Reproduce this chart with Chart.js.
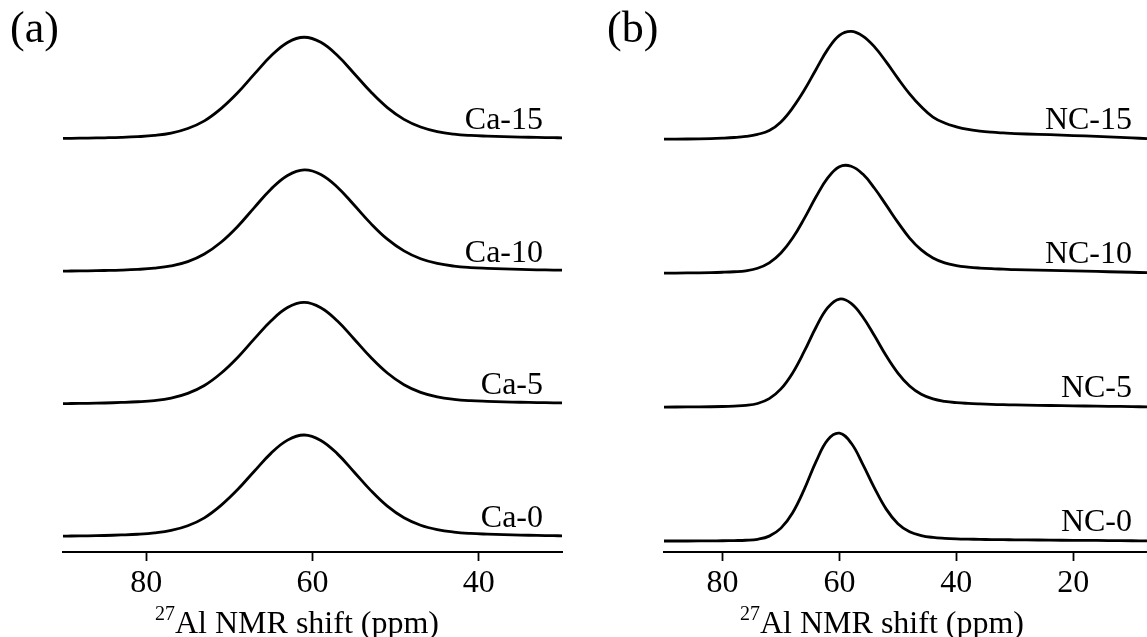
<!DOCTYPE html>
<html>
<head>
<meta charset="utf-8">
<script src="https://cdn.jsdelivr.net/npm/chart.js@4.4.1/dist/chart.umd.min.js"></script>
<style>
  body { margin: 0; background: #fff; }
  canvas { position: absolute; top: 0; }
  #chartA { left: 0; }
  #chartB { left: 575px; }
</style>
</head>
<body>
<canvas id="chartA" width="575" height="637"></canvas>
<canvas id="chartB" width="572" height="637"></canvas>
<script>
// panel (a): chemical shift grid (ppm) and normalised intensities
const ppmA = [90, 89, 87, 85, 83, 81, 79, 77, 75, 73, 71, 69, 67, 65, 63, 61, 59, 57, 55, 53, 51, 49, 47, 45, 43, 41, 39, 37, 35, 33, 31, 30];
const ca0  = [0.009, 0.01, 0.012, 0.015, 0.02, 0.027, 0.04, 0.064, 0.11, 0.188, 0.31, 0.465, 0.645, 0.82, 0.95, 1.0, 0.947, 0.815, 0.638, 0.457, 0.302, 0.188, 0.115, 0.072, 0.048, 0.035, 0.028, 0.023, 0.019, 0.016, 0.013, 0.012];
const ca5  = [0.008, 0.009, 0.011, 0.014, 0.019, 0.026, 0.038, 0.062, 0.108, 0.185, 0.305, 0.46, 0.642, 0.818, 0.95, 1.0, 0.948, 0.818, 0.642, 0.462, 0.308, 0.193, 0.118, 0.074, 0.05, 0.037, 0.03, 0.025, 0.021, 0.018, 0.016, 0.015];
const ca10 = [0.007, 0.008, 0.01, 0.013, 0.017, 0.024, 0.036, 0.058, 0.1, 0.175, 0.29, 0.445, 0.63, 0.81, 0.945, 1.0, 0.955, 0.83, 0.655, 0.475, 0.32, 0.205, 0.128, 0.082, 0.056, 0.042, 0.034, 0.028, 0.024, 0.02, 0.017, 0.016];
const ca15 = [0.008, 0.009, 0.011, 0.014, 0.018, 0.025, 0.037, 0.06, 0.105, 0.18, 0.3, 0.455, 0.638, 0.815, 0.949, 1.0, 0.95, 0.82, 0.645, 0.465, 0.31, 0.195, 0.12, 0.075, 0.05, 0.037, 0.03, 0.025, 0.021, 0.018, 0.015, 0.014];
const namesA = ['Ca-0', 'Ca-5', 'Ca-10', 'Ca-15'];
const ticksA = [80, 60, 40];

// panel (b)
const ppmB = [90, 86, 82, 80, 78, 76, 74, 72, 70, 68, 66, 64, 62, 60, 58, 56, 54, 52, 50, 48, 46, 44, 42, 40, 38, 36, 34, 32, 30, 26, 22, 18, 14, 10, 7.4];
const nc0  = [0, 0, 0.001, 0.002, 0.004, 0.007, 0.016, 0.045, 0.119, 0.262, 0.48, 0.734, 0.937, 0.998, 0.907, 0.71, 0.49, 0.295, 0.16, 0.085, 0.05, 0.033, 0.025, 0.02, 0.017, 0.015, 0.013, 0.012, 0.011, 0.009, 0.007, 0.006, 0.004, 0.002, 0.001];
const nc5  = [0, 0.001, 0.003, 0.005, 0.009, 0.015, 0.033, 0.078, 0.168, 0.316, 0.517, 0.739, 0.92, 1.0, 0.96, 0.834, 0.66, 0.475, 0.315, 0.195, 0.118, 0.075, 0.053, 0.041, 0.034, 0.029, 0.025, 0.022, 0.02, 0.016, 0.013, 0.01, 0.007, 0.004, 0.002];
const nc10 = [0, 0.002, 0.005, 0.008, 0.013, 0.022, 0.045, 0.095, 0.186, 0.325, 0.507, 0.707, 0.882, 0.986, 0.99, 0.917, 0.786, 0.63, 0.47, 0.325, 0.215, 0.14, 0.095, 0.07, 0.056, 0.047, 0.041, 0.037, 0.033, 0.028, 0.023, 0.018, 0.013, 0.008, 0.004];
const nc15 = [0, 0.002, 0.006, 0.01, 0.016, 0.026, 0.045, 0.08, 0.16, 0.29, 0.455, 0.646, 0.832, 0.962, 0.999, 0.955, 0.855, 0.716, 0.563, 0.42, 0.3, 0.205, 0.15, 0.115, 0.09, 0.075, 0.065, 0.058, 0.052, 0.045, 0.038, 0.03, 0.021, 0.012, 0.006];
const namesB = ['NC-0', 'NC-5', 'NC-10', 'NC-15'];
const ticksB = [80, 60, 40, 20];

const FONT = '"Liberation Serif", "Times New Roman", serif';

// labels next to each trace, panel letter, axis title with superscript
const panelText = {
  id: 'panelText',
  afterDraw(chart, args, o) {
    const ctx = chart.ctx, area = chart.chartArea, y = chart.scales.y;
    ctx.save();
    ctx.fillStyle = '#000';
    ctx.textBaseline = 'alphabetic';

    ctx.font = '32px ' + FONT;
    ctx.textAlign = 'right';
    o.names.forEach((name, i) => {
      ctx.fillText(name, area.right - o.labelInset, y.getPixelForValue(o.offsets[i]) - 10);
    });

    ctx.textAlign = 'left';
    ctx.font = '44px ' + FONT;
    ctx.fillText(o.letter, o.letterX, 42);

    // x title
    const sup = '27', main = 'Al NMR shift (ppm)';
    ctx.font = '20px ' + FONT;
    const wSup = ctx.measureText(sup).width;
    ctx.font = '32px ' + FONT;
    const wMain = ctx.measureText(main).width;
    const x0 = o.titleX - (wSup + wMain) / 2;
    ctx.fillText(main, x0 + wSup, 633);
    ctx.font = '20px ' + FONT;
    ctx.fillText(sup, x0, 620);
    ctx.restore();
  }
};

function makePanel(id, ppm, series, offsets, names, tickVals, xmin, yRange, pad, text) {
  const datasets = series.map((s, i) => ({
    data: ppm.map((x, k) => ({ x, y: s[k] + offsets[i] })),
    borderColor: '#000',
    borderWidth: 2.8,
    pointRadius: 0,
    fill: false,
    tension: 0.4
  }));
  return new Chart(document.getElementById(id), {
    type: 'line',
    data: { datasets },
    plugins: [panelText],
    options: {
      responsive: false,
      animation: false,
      devicePixelRatio: 1,
      layout: { padding: pad },
      plugins: {
        legend: { display: false },
        tooltip: { enabled: false },
        panelText: Object.assign({ names, offsets }, text)
      },
      scales: {
        x: {
          type: 'linear',
          reverse: true,
          min: xmin,
          max: 90,
          afterBuildTicks: s => { s.ticks = tickVals.map(v => ({ value: v })); },
          afterFit: s => { s.height = 85; },
          border: { display: true, color: '#000', width: 2 },
          grid: { drawOnChartArea: false, drawTicks: true, tickLength: 9, tickColor: '#000', tickWidth: 1.8 },
          ticks: {
            color: '#000',
            font: { family: FONT, size: 32 },
            padding: 3,
            maxRotation: 0,
            autoSkip: false
          }
        },
        y: { display: false, min: yRange[0], max: yRange[1] }
      }
    }
  });
}

const offsA = [0, 1.3, 2.6, 3.9];
const offsB = [0, 1.24, 2.48, 3.72];

makePanel('chartA', ppmA, [ca0, ca5, ca10, ca15], offsA, namesA, ticksA, 30,
  [-0.147, 5.265], { left: 63, right: 13, top: 0, bottom: 0 },
  { letter: '(a)', letterX: 10, labelInset: 19, titleX: 297 });

makePanel('chartB', ppmB, [nc0, nc5, nc10, nc15], offsB, namesB, ticksB, 7.4,
  [-0.102, 5.009], { left: 89, right: 0, top: 0, bottom: 0 },
  { letter: '(b)', letterX: 32, labelInset: 15, titleX: 307 });
</script>
</body>
</html>
